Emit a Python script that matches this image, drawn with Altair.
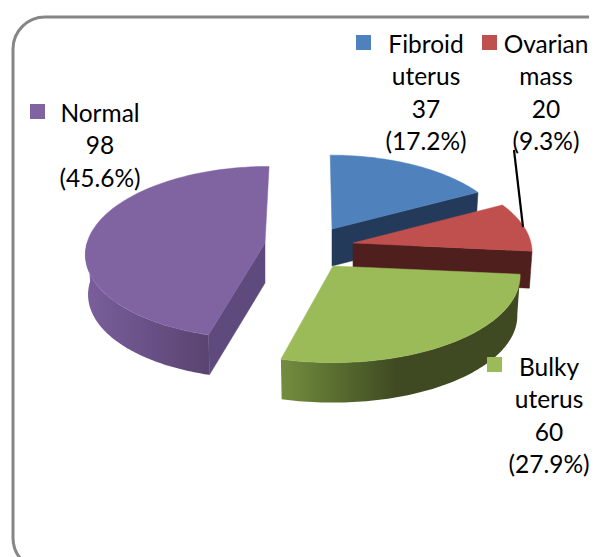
import numpy as np
import pandas as pd
import altair as alt

categories = ["Fibroid uterus", "Ovarian mass", "Bulky uterus", "Normal"]
counts = [37, 20, 60, 98]
percents = ["(17.2%)", "(9.3%)", "(27.9%)", "(45.6%)"]
top_colors = ["#4F81BD", "#C0504D", "#9BBB59", "#8064A2"]
cut_colors = ["#243A5A", "#4F1F1D", "#3F4A22", "#5F4A7D"]

W, H = 589, 557
X = alt.Scale(domain=[8, W], nice=False, zero=False)
Y = alt.Scale(domain=[H, 8], nice=False, zero=False)
NOAX = None

# exploded-slice geometry: apex x, apex y, radius x, radius y, depth, skew
geom = [
    (332, 229, 175, 82, 37, -2),
    (353, 243, 178, 85, 37, 0),
    (333, 266, 186, 86, 40, 0),
    (265, 243, 178, 85, 40, 4.5),
]
PERSP = 0.11
SHRINK = 0.985

total = sum(counts)
edges = np.cumsum([0] + counts) / total * 360.0
edges[3] = 194.5  # rendered boundary of the front slices
NORMAL_START = 195.0


def rim(i, t0, t1, lower=False, n=80):
    cx, cy, rx, ry, d, s = geom[i]
    t = np.radians(np.linspace(t0, t1, n))
    u, v = np.sin(t), -np.cos(t)
    w = 1 - PERSP * v
    x = (rx * u - s * v) / w
    y = cy + ry * v / w
    if lower:
        return cx + x * SHRINK, y + d
    return cx + x, y


def apex(i, lower=False):
    cx, cy, rx, ry, d, s = geom[i]
    return cx, cy + (d if lower else 0)


def poly(xs, ys, **mark):
    xs, ys = list(xs), list(ys)
    xs.append(xs[0])
    ys.append(ys[0])
    df = pd.DataFrame({"x": xs, "y": ys, "k": range(len(xs))})
    return alt.Chart(df).mark_line(**mark).encode(
        x=alt.X("x:Q", scale=X, axis=NOAX),
        y=alt.Y("y:Q", scale=Y, axis=NOAX),
        order="k:Q",
    )


def solid(xs, ys, c):
    return poly(xs, ys, fill=c, stroke=c, strokeWidth=0.5)


def grad(stops):
    return alt.Gradient(
        gradient="linear", x1=0, x2=1, y1=0, y2=0,
        stops=[alt.GradientStop(offset=o, color=c) for o, c in stops],
    )


def top(i, t0, t1):
    ax, ay = apex(i)
    x, y = rim(i, t0, t1)
    return solid([ax, *x], [ay, *y], top_colors[i])


def cut(i, t):
    ax, ay = apex(i)
    bx, by = apex(i, True)
    x0, y0 = rim(i, t, t, n=1)
    x1, y1 = rim(i, t, t, True, n=1)
    return solid([ax, x0[0], x1[0], bx], [ay, y0[0], y1[0], by], cut_colors[i])


def side(i, t0, t1, fill):
    x0, y0 = rim(i, t0, t1)
    x1, y1 = rim(i, t0, t1, True)
    return poly([*x0, *x1[::-1]], [*y0, *y1[::-1]], fill=fill, strokeWidth=0)


border = pd.DataFrame({"x": [13], "x2": [619], "y": [17], "y2": [570]})
frame = alt.Chart(border).mark_rect(
    fill="white", stroke="#868686", strokeWidth=3, cornerRadius=32
).encode(
    x=alt.X("x:Q", scale=X, axis=NOAX), x2="x2:Q",
    y=alt.Y("y:Q", scale=Y, axis=NOAX), y2="y2:Q",
)

layers = [frame]

# Fibroid
layers += [cut(0, edges[1]), top(0, edges[0], edges[1])]
# Ovarian
layers += [cut(1, edges[2]), top(1, edges[1], edges[2])]
# Bulky
layers += [
    side(2, edges[2], edges[3],
         grad([(0, "#738D3F"), (0.22, "#5A6F30"), (0.48, "#3F4A22"), (1, "#3F4A22")])),
    top(2, edges[2], edges[3]),
]
# Normal
layers += [
    side(3, NORMAL_START, 271,
         grad([(0, "#7A5F9B"), (0.45, "#6B5289"), (1, "#5A4470")])),
    cut(3, NORMAL_START),
    top(3, NORMAL_START, 360),
]

leader = pd.DataFrame({"x": [514, 523], "y": [150, 227]})
layers.append(alt.Chart(leader).mark_line(color="black", strokeWidth=2.2).encode(
    x=alt.X("x:Q", scale=X, axis=NOAX), y=alt.Y("y:Q", scale=Y, axis=NOAX)))

# legend keys and labels
key_x = [363.5, 489.5, 494.5, 37.5]
key_y = [42.5, 42.5, 364.5, 111.5]
keys = pd.DataFrame({"x": key_x, "y": key_y, "c": top_colors})
layers.append(alt.Chart(keys).mark_square(size=225, opacity=1).encode(
    x=alt.X("x:Q", scale=X, axis=NOAX), y=alt.Y("y:Q", scale=Y, axis=NOAX),
    color=alt.Color("c:N", scale=None)))

label_lines = [
    ["Fibroid", "uterus", str(counts[0]), percents[0]],
    ["Ovarian", "mass", str(counts[1]), percents[1]],
    ["Bulky", "uterus", str(counts[2]), percents[2]],
    ["Normal", str(counts[3]), percents[3]],
]
label_x = [426, 546, 549, 100]
label_y = [45.5, 45.5, 368.5, 114.5]
rows = []
for lines, lx, ly in zip(label_lines, label_x, label_y):
    for j, s in enumerate(lines):
        rows.append({"x": lx, "y": ly + j * 32.5, "s": s})
layers.append(alt.Chart(pd.DataFrame(rows)).mark_text(
    font="Lato", fontSize=24.5, color="black", align="center", baseline="middle"
).encode(
    x=alt.X("x:Q", scale=X, axis=NOAX), y=alt.Y("y:Q", scale=Y, axis=NOAX),
    text="s:N"))

chart = alt.layer(*layers).properties(
    width=W - 8, height=H - 8, padding=0,
    autosize=alt.AutoSizeParams(type="none"),
).configure_view(stroke=None)

chart.save("out.html", embed_options={"renderer": "svg", "actions": False})
